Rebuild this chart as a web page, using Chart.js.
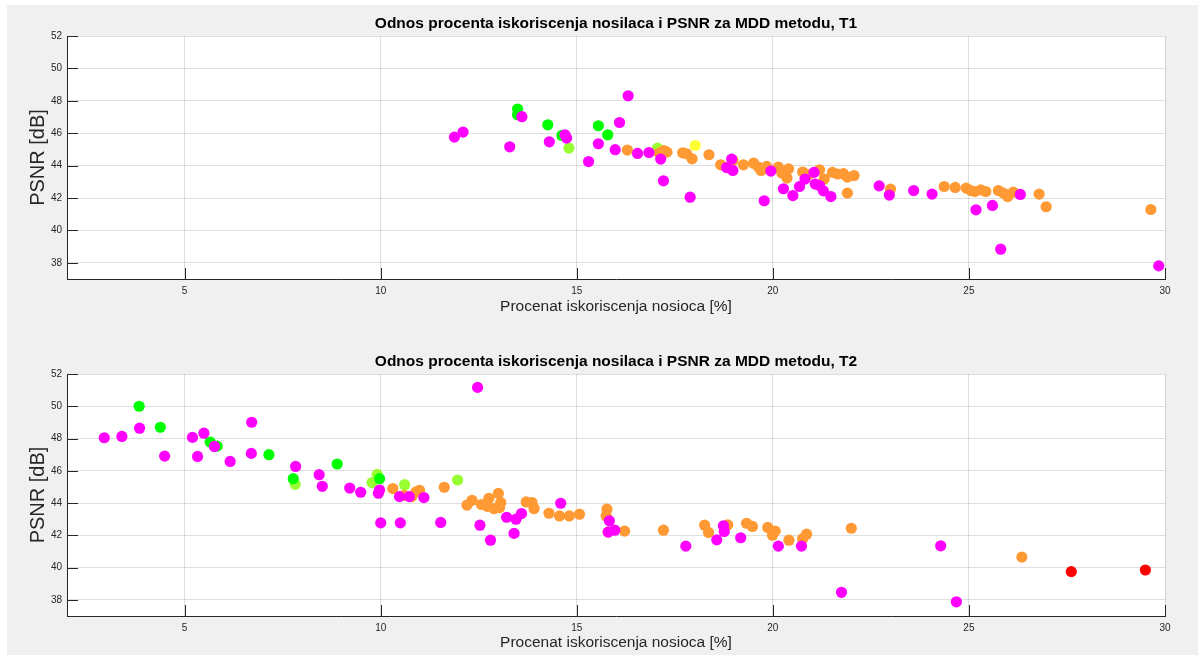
<!DOCTYPE html>
<html>
<head>
<meta charset="utf-8">
<script src="https://cdn.jsdelivr.net/npm/chart.js@4/dist/chart.umd.min.js"></script>
<style>
  html, body { margin: 0; padding: 0; background: #ffffff; }
  #fig { position: relative; width: 1203px; height: 656px; overflow: hidden; }
  #bg { position: absolute; left: 7px; top: 5px; width: 1191px; height: 650px; background: #f0f0f0; }
  canvas { position: absolute; left: 0; }
</style>
</head>
<body>
<div id="fig">
  <div id="bg"></div>
  <canvas id="c1" width="1203" height="328" style="top:0"></canvas>
  <canvas id="c2" width="1203" height="328" style="top:328px"></canvas>
</div>
<script>
// Axis ticks and labels
const xTicks = [5, 10, 15, 20, 25, 30];
const yTicks = [38, 40, 42, 44, 46, 48, 50, 52];
const xLabel = 'Procenat iskoriscenja nosioca [%]';
const yLabel = 'PSNR [dB]';
const titleT1 = 'Odnos procenta iskoriscenja nosilaca i PSNR za MDD metodu, T1';
const titleT2 = 'Odnos procenta iskoriscenja nosilaca i PSNR za MDD metodu, T2';

// T1: [carrier usage %, PSNR dB]
const t1Magenta = [[11.88,45.76],[12.1,46.07],[13.29,45.16],[13.6,47.02],[14.3,45.47],[14.7,45.9],[14.74,45.7],
  [16.09,46.66],[16.31,48.31],[15.55,45.35],[15.3,44.25],[15.98,44.98],[16.55,44.75],[16.84,44.81],[17.14,44.4],
  [17.21,43.06],[17.89,42.05],[18.95,44.4],[18.82,43.88],[18.98,43.7],[19.78,41.83],[19.95,43.66],[20.27,42.57],
  [20.51,42.15],[20.68,42.71],[20.82,43.17],[21.05,43.58],[21.08,42.86],[21.19,42.77],[21.29,42.44],[21.48,42.09],
  [22.71,42.75],[22.97,42.18],[23.59,42.46],[24.06,42.24],[25.18,41.27],[25.6,41.54],[25.81,38.84],[26.31,42.22],
  [29.84,37.81]];
const t1Orange = [[16.29,44.96],[17.1,44.77],[17.22,44.93],[17.3,44.83],[17.7,44.79],[17.8,44.73],[17.94,44.42],
  [18.37,44.67],[18.67,44.05],[18.98,44.32],[19.25,44.05],[19.51,44.15],[19.63,43.91],[19.7,43.7],[19.84,43.95],
  [20.14,43.91],[20.23,43.54],[20.36,43.23],[20.4,43.8],[20.76,43.6],[20.9,43.43],[21.19,43.74],[21.31,43.17],
  [21.52,43.58],[21.65,43.48],[21.8,43.5],[21.9,43.29],[22.07,43.39],[21.9,42.3],[23.0,42.55],[24.37,42.71],
  [24.65,42.65],[24.93,42.61],[25.05,42.46],[25.15,42.4],[25.3,42.5],[25.43,42.4],[25.75,42.46],[25.88,42.3],
  [25.99,42.09],[26.13,42.36],[26.79,42.24],[26.97,41.46],[29.64,41.29]];
const t1Green = [[13.49,47.49],[13.49,47.14],[14.26,46.52],[14.62,45.86],[15.55,46.46],[15.79,45.9]];
const t1LightGreen = [[14.8,45.08],[17.06,45.08]];
const t1Yellow = [[18.02,45.24]];
const t1Red = [];

// T2: [carrier usage %, PSNR dB]
const t2Magenta = [[2.95,48.05],[3.4,48.13],[3.85,48.64],[4.49,46.91],[5.2,48.07],[5.49,48.33],[5.33,46.89],
  [5.76,47.51],[6.16,46.58],[6.71,49.01],[6.7,47.08],[7.83,46.27],[8.43,45.76],[8.51,45.04],[9.21,44.93],
  [9.49,44.67],[9.97,44.81],[9.94,44.61],[10.48,44.4],[10.0,42.77],[10.5,42.77],[12.47,51.17],[10.73,44.4],
  [11.1,44.34],[11.53,42.8],[12.53,42.63],[12.8,41.7],[13.21,43.12],[13.45,43.0],[13.59,43.35],[13.4,42.12],
  [14.59,43.99],[15.83,42.9],[15.8,42.2],[15.97,42.32],[17.78,41.33],[18.57,41.72],[18.74,42.59],[18.76,42.24],
  [19.18,41.85],[20.14,41.33],[20.73,41.33],[21.75,38.47],[24.28,41.35],[24.68,37.88]];
const t2Orange = [[10.31,44.9],[10.6,44.48],[10.79,44.4],[10.9,44.69],[10.99,44.79],[11.62,44.98],[12.2,43.87],
  [12.33,44.17],[12.57,43.91],[12.76,44.3],[12.72,43.8],[12.89,43.66],[13.0,44.6],[13.06,44.03],[13.03,43.72],
  [13.71,44.07],[13.86,44.03],[13.91,43.66],[14.29,43.37],[14.56,43.2],[14.81,43.2],[15.07,43.31],[15.77,43.62],
  [15.75,43.2],[15.8,42.2],[16.22,42.26],[17.21,42.32],[18.26,42.63],[18.36,42.18],[18.85,42.65],[19.33,42.75],
  [19.48,42.55],[19.87,42.49],[20.06,42.26],[19.99,42.01],[20.41,41.7],[20.76,41.79],[20.86,42.07],[22.0,42.44],
  [26.35,40.65]];
const t2Green = [[3.84,50.0],[4.38,48.7],[5.65,47.78],[5.83,47.53],[7.15,47.0],[7.77,45.51],[8.89,46.42],[9.97,45.51]];
const t2LightGreen = [[7.82,45.16],[9.91,45.78],[9.78,45.27],[10.61,45.14],[11.96,45.43]];
const t2Yellow = [];
const t2Red = [[27.61,39.75],[29.5,39.85]];

const FONT = '"Liberation Sans", Arial, Helvetica, sans-serif';
const AXIS_COLOR = '#262626';
const GRID_COLOR = 'rgba(38,38,38,0.15)';
const COLORS = {
  magenta: '#ff00ff', orange: '#ff9933', green: '#00ff00',
  lightGreen: '#99ff33', yellow: '#ffff33', red: '#ff0000'
};

// White axes background, inward tick marks and a title centred over the plot box
const matlabAxes = {
  id: 'matlabAxes',
  beforeDraw(chart) {
    const a = chart.chartArea, ctx = chart.ctx;
    ctx.save();
    ctx.fillStyle = '#ffffff';
    ctx.fillRect(a.left, a.top, a.right - a.left, a.bottom - a.top);
    ctx.restore();
  },
  beforeDatasetsDraw(chart) {
    const a = chart.chartArea, ctx = chart.ctx;
    const len = 11;
    ctx.save();
    ctx.strokeStyle = AXIS_COLOR;
    ctx.lineWidth = 1;
    ctx.beginPath();
    chart.scales.x.ticks.forEach(t => {
      const px = Math.round(chart.scales.x.getPixelForValue(t.value)) + 0.5;
      ctx.moveTo(px, a.bottom);
      ctx.lineTo(px, a.bottom - len);
    });
    chart.scales.y.ticks.forEach(t => {
      const py = Math.round(chart.scales.y.getPixelForValue(t.value)) + 0.5;
      ctx.moveTo(a.left, py);
      ctx.lineTo(a.left + len, py);
    });
    ctx.stroke();
    ctx.restore();
  },
  afterDraw(chart, args, opts) {
    const a = chart.chartArea, ctx = chart.ctx;
    ctx.save();
    ctx.fillStyle = '#000000';
    ctx.font = 'bold 15.5px ' + FONT;
    ctx.textAlign = 'center';
    ctx.textBaseline = 'middle';
    ctx.fillText(opts.text, (a.left + a.right) / 2, a.top - 12);
    ctx.restore();
  }
};

function makeDatasets(groups) {
  return groups.filter(g => g.data.length).map(g => ({
    data: g.data.map(p => ({x: p[0], y: p[1]})),
    backgroundColor: g.color,
    borderWidth: 0,
    pointRadius: 5.6,
    pointHoverRadius: 5.6
  }));
}

function makeChart(id, title, groups, padTop, xHeight, xTitlePad) {
  return new Chart(document.getElementById(id), {
    type: 'scatter',
    data: { datasets: makeDatasets(groups) },
    options: {
      responsive: false,
      animation: false,
      devicePixelRatio: 1,
      layout: { padding: { top: padTop, right: 38, bottom: 0, left: 0 } },
      plugins: {
        legend: { display: false },
        tooltip: { enabled: false },
        matlabAxes: { text: title }
      },
      elements: { point: { borderWidth: 0 } },
      clip: false,
      scales: {
        x: {
          type: 'linear', min: 2, max: 30,
          afterBuildTicks: s => { s.ticks = xTicks.map(v => ({value: v})); },
          afterFit: s => { s.height = xHeight; },
          grid: { color: GRID_COLOR, lineWidth: 1, drawTicks: false },
          border: { display: true, color: AXIS_COLOR, width: 1 },
          ticks: { font: { family: FONT, size: 10 }, color: AXIS_COLOR, padding: 6, maxRotation: 0 },
          title: { display: true, text: xLabel, color: AXIS_COLOR,
                   font: { family: FONT, size: 15.5 }, padding: { top: 0, bottom: xTitlePad } }
        },
        y: {
          type: 'linear', min: 37, max: 52,
          afterBuildTicks: s => { s.ticks = yTicks.map(v => ({value: v})); },
          afterFit: s => { s.width = 67; },
          grid: { color: GRID_COLOR, lineWidth: 1, drawTicks: false },
          border: { display: true, color: AXIS_COLOR, width: 1 },
          ticks: { font: { family: FONT, size: 10 }, color: AXIS_COLOR, padding: 5 },
          title: { display: true, text: yLabel, color: AXIS_COLOR,
                   font: { family: FONT, size: 20 }, padding: { top: 26, bottom: 0 } }
        }
      }
    },
    plugins: [matlabAxes]
  });
}

makeChart('c1', titleT1, [
  { data: t1Magenta, color: COLORS.magenta },
  { data: t1Orange, color: COLORS.orange },
  { data: t1Green, color: COLORS.green },
  { data: t1LightGreen, color: COLORS.lightGreen },
  { data: t1Yellow, color: COLORS.yellow },
  { data: t1Red, color: COLORS.red }
], 36, 49, 12);

makeChart('c2', titleT2, [
  { data: t2Magenta, color: COLORS.magenta },
  { data: t2Orange, color: COLORS.orange },
  { data: t2Green, color: COLORS.green },
  { data: t2LightGreen, color: COLORS.lightGreen },
  { data: t2Yellow, color: COLORS.yellow },
  { data: t2Red, color: COLORS.red }
], 46, 40, 4);
</script>
</body>
</html>
